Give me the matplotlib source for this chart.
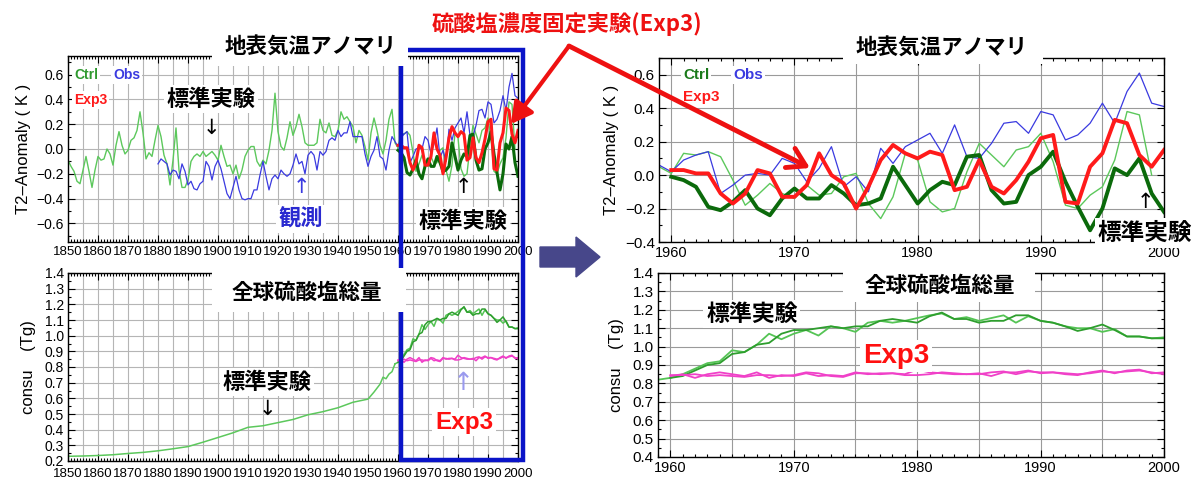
import matplotlib
matplotlib.use('Agg')
import matplotlib.pyplot as plt
import numpy as np
from matplotlib.patches import Rectangle, FancyArrowPatch, FancyArrow
from matplotlib.ticker import MultipleLocator

plt.rcParams['font.family'] = ['Liberation Sans', 'Noto Sans CJK JP', 'DejaVu Sans']
JP = ['Noto Sans CJK JP', 'DejaVu Sans']

# ---- temperature anomaly (K) ----
# thin light green control run, 1850-1999
ctrl_long = [
    -0.09, -0.14, -0.18, -0.26, -0.28, -0.17, -0.06, -0.18, -0.31, -0.17,
    -0.06, -0.09, -0.08, 0.00, -0.04, -0.13, 0.03, 0.14, 0.03, -0.04,
    -0.01, 0.07, 0.09, 0.15, 0.30, 0.13, -0.08, -0.03, -0.06, 0.07,
    0.19, 0.10, -0.05, -0.12, -0.29, -0.09, 0.17, -0.17, -0.31, -0.31,
    -0.25, -0.10, -0.06, -0.04, -0.06, -0.02, -0.06, -0.04, -0.02, -0.05,
    -0.09, 0.03, -0.06, -0.14, -0.13, -0.20, -0.13, -0.24, -0.17, -0.06,
    -0.01, 0.02, 0.02, -0.10, -0.14, -0.09, -0.12, -0.01, 0.15, 0.45,
    0.14, 0.02, -0.01, 0.09, 0.22, 0.11, 0.18, 0.28, 0.18, 0.05,
    0.03, 0.03, 0.03, 0.05, 0.24, 0.15, 0.13, 0.21, 0.11, 0.10,
    0.15, 0.30, 0.24, 0.26, 0.22, 0.18, 0.05, 0.15, 0.11, 0.02,
    -0.09, 0.13, 0.25, 0.15, 0.03, -0.04, 0.07, 0.24, 0.32, 0.05,
    0.01, 0.13, 0.12, 0.14, 0.11, -0.03, -0.18, -0.12, -0.05, -0.11,
    -0.14, -0.06, -0.12, -0.11, -0.01, 0.01, -0.17, -0.26, -0.13, 0.13,
    0.09, -0.16, -0.22, -0.20, 0.02, 0.19, 0.12, 0.05, 0.15, 0.17,
    0.25, 0.08, -0.18, -0.20, -0.12, -0.07, 0.09, 0.38, 0.36, 0.00,
]
ctrl_long_start = 1850

# observations, 1880-2000
obs = [
    -0.12, -0.08, -0.10, -0.12, -0.21, -0.17, -0.18, -0.24, -0.12, -0.18,
    -0.29, -0.26, -0.32, -0.33, -0.28, -0.26, -0.10, -0.14, -0.25, -0.14,
    -0.09, -0.16, -0.26, -0.36, -0.40, -0.31, -0.22, -0.33, -0.40, -0.41,
    -0.40, -0.40, -0.33, -0.33, -0.21, -0.10, -0.22, -0.33, -0.24, -0.21,
    -0.24, -0.17, -0.20, -0.22, -0.20, -0.13, -0.04, -0.12, -0.10, -0.20,
    -0.05, -0.02, -0.05, -0.17, -0.02, -0.05, -0.02, 0.07, 0.09, 0.07,
    0.15, 0.10, 0.13, 0.13, 0.22, 0.10, 0.10, 0.10, 0.10, -0.04,
    -0.14, -0.06, -0.01, 0.10, -0.06, -0.08, -0.17, -0.01, 0.10, 0.06,
    0.02, 0.09, 0.12, 0.14, -0.11, -0.06, 0.00, 0.01, 0.00, 0.10,
    0.07, -0.04, 0.04, 0.17, -0.07, -0.01, -0.10, 0.16, 0.07, 0.17,
    0.21, 0.25, 0.13, 0.30, 0.11, 0.10, 0.19, 0.31, 0.32, 0.25,
    0.38, 0.36, 0.21, 0.24, 0.31, 0.43, 0.31, 0.50, 0.61, 0.43,
    0.41,
]
obs_start = 1880

# 1960-2000: control (thick dark green) and fixed sulfate Exp3 (red)
ctrl_run = [
    -0.01, -0.03, -0.07, -0.19, -0.21, -0.16, -0.09, -0.20, -0.24, -0.14,
    -0.08, -0.14, -0.14, -0.06, -0.11, -0.18, -0.17, -0.14, 0.05, -0.06,
    -0.17, -0.09, -0.04, -0.06, 0.11, 0.12, -0.09, -0.17, -0.16, 0.00,
    0.05, 0.14, -0.04, -0.19, -0.33, -0.20, 0.04, 0.00, 0.10, -0.11,
    -0.22,
]
exp3 = [
    0.03, 0.03, 0.01, 0.01, -0.11, -0.17, -0.11, 0.03, 0.01, -0.13,
    -0.13, -0.06, 0.13, 0.00, -0.05, -0.20, -0.07, 0.09, 0.18, 0.13,
    0.10, 0.14, 0.12, -0.09, -0.07, 0.09, -0.07, -0.11, -0.03, 0.08,
    0.22, 0.24, -0.16, -0.17, 0.05, 0.13, 0.33, 0.31, 0.12, 0.05,
    0.15,
]
run_start = 1960

# ---- global sulfate burden (Tg) ----
sulf_hist_years = [1850, 1855, 1860, 1865, 1870, 1875, 1880, 1885, 1890, 1895,
                   1900, 1905, 1910, 1915, 1920, 1925, 1930, 1935, 1940, 1945,
                   1950, 1952, 1954, 1955, 1956, 1957, 1958, 1959]
sulf_hist = [0.230, 0.232, 0.235, 0.240, 0.248, 0.255, 0.265, 0.278, 0.292, 0.320,
             0.350, 0.380, 0.415, 0.425, 0.445, 0.465, 0.495, 0.515, 0.540, 0.575,
             0.595, 0.640, 0.690, 0.735, 0.725, 0.755, 0.770, 0.820]
sulf_ctrl_a = [
    0.83, 0.85, 0.88, 0.91, 0.92, 0.98, 0.97, 1.01, 1.07, 1.04,
    1.07, 1.09, 1.06, 1.11, 1.10, 1.08, 1.13, 1.14, 1.13, 1.14,
    1.155, 1.17, 1.18, 1.15, 1.16, 1.14, 1.155, 1.17, 1.13, 1.165,
    1.14, 1.13, 1.11, 1.10, 1.10, 1.08, 1.095, 1.055, 1.055, 1.045,
    1.05,
]
sulf_ctrl_b = [
    0.83, 0.84, 0.87, 0.90, 0.91, 0.96, 0.97, 1.01, 1.02, 1.07,
    1.09, 1.09, 1.10, 1.11, 1.10, 1.11, 1.11, 1.14, 1.15, 1.14,
    1.13, 1.165, 1.185, 1.15, 1.15, 1.13, 1.14, 1.14, 1.17, 1.17,
    1.14, 1.13, 1.11, 1.085, 1.10, 1.12, 1.09, 1.055, 1.055, 1.045,
    1.045,
]
sulf_exp3_a = [
    0.84, 0.85, 0.83, 0.85, 0.86, 0.85, 0.84, 0.86, 0.83, 0.845,
    0.84, 0.855, 0.84, 0.845, 0.84, 0.86, 0.85, 0.855, 0.855, 0.85,
    0.875, 0.86, 0.855, 0.85, 0.85, 0.855, 0.84, 0.86, 0.86, 0.87,
    0.855, 0.86, 0.85, 0.845, 0.86, 0.87, 0.855, 0.87, 0.875, 0.855,
    0.86,
]
sulf_exp3_b = [
    0.845, 0.845, 0.85, 0.84, 0.845, 0.84, 0.835, 0.845, 0.845, 0.84,
    0.845, 0.86, 0.855, 0.84, 0.835, 0.855, 0.855, 0.85, 0.855, 0.845,
    0.845, 0.85, 0.86, 0.855, 0.85, 0.85, 0.86, 0.865, 0.85, 0.865,
    0.86, 0.86, 0.855, 0.85, 0.855, 0.865, 0.86, 0.865, 0.87, 0.86,
    0.85,
]

yr_long = np.arange(ctrl_long_start, ctrl_long_start + len(ctrl_long))
yr_obs = np.arange(obs_start, obs_start + len(obs))
yr_run = np.arange(run_start, run_start + len(ctrl_run))

LGREEN = '#5cc85c'
DGREEN = '#0b6a0b'
BLUE = '#3a3ae0'
RED = '#ff1a1a'
MAG = '#f040c8'
GRN_A = '#55c455'
GRN_B = '#2e9e2e'

W, H = 1195, 480
fig = plt.figure(figsize=(W / 100, H / 100), dpi=100)


def box(l, t, r, b):
    return [l / W, 1 - b / H, (r - l) / W, (b - t) / H]


def style(ax, x0, x1, ymaj, ymin, gridc, xfs, yfs, xpad=3):
    ax.xaxis.set_major_locator(MultipleLocator(10))
    ax.xaxis.set_minor_locator(MultipleLocator(1))
    ax.yaxis.set_major_locator(MultipleLocator(ymaj))
    ax.yaxis.set_minor_locator(MultipleLocator(ymin))
    ax.tick_params(which='both', direction='in', top=True, right=True, width=0.8)
    ax.tick_params(which='major', length=5)
    ax.tick_params(which='minor', length=2.5)
    ax.tick_params(axis='x', labelsize=xfs, pad=xpad)
    ax.tick_params(axis='y', labelsize=yfs, pad=3)
    ax.grid(True, axis='y', which='major', color=gridc, lw=0.8)
    for x in range(int(np.ceil(x0 / 5) * 5), int(x1) + 1, 5):
        ax.axvline(x, color=gridc, lw=0.8, zorder=0.5)
    for s in ax.spines.values():
        s.set_linewidth(1.0)


# left, temperature
ax1 = fig.add_axes(box(68, 56, 518, 242))
ax1.plot(yr_long, ctrl_long, color=LGREEN, lw=1.0)
ax1.plot(yr_obs, obs, color=BLUE, lw=0.9)
ax1.plot(yr_run, ctrl_run, color=DGREEN, lw=2.2)
ax1.plot(yr_run, exp3, color=RED, lw=2.2)
ax1.set_xlim(1850, 2000)
ax1.set_ylim(-0.75, 0.75)
style(ax1, 1850, 2000, 0.2, 0.1, '#b5b5b5', 9.5, 10)
ax1.set_ylabel('T2–Anomaly ( K )', fontsize=12, labelpad=4)

# left, sulfate
ax2 = fig.add_axes(box(68, 273, 518, 461))
ax2.plot(sulf_hist_years, sulf_hist, color=LGREEN, lw=1.1)
ax2.plot(np.r_[sulf_hist_years[-1], yr_run], np.r_[sulf_hist[-1], sulf_ctrl_a], color=GRN_A, lw=1.1)
ax2.plot(yr_run, sulf_ctrl_b, color=GRN_B, lw=1.1)
ax2.plot(yr_run, sulf_exp3_a, color=MAG, lw=1.1)
ax2.plot(yr_run, sulf_exp3_b, color=MAG, lw=1.1)
ax2.set_xlim(1850, 2000)
ax2.set_ylim(0.2, 1.4)
style(ax2, 1850, 2000, 0.1, 0.05, '#b5b5b5', 9.5, 10, xpad=5)
ax2.set_ylabel('consu    (Tg)', fontsize=12, labelpad=6)

# right, temperature
ax3 = fig.add_axes(box(659, 58, 1164, 242))
ax3.plot(yr_long, ctrl_long, color=LGREEN, lw=1.0)
ax3.plot(yr_obs, obs, color=BLUE, lw=0.9)
ax3.plot(yr_run, ctrl_run, color=DGREEN, lw=2.8)
ax3.plot(yr_run, exp3, color=RED, lw=2.8)
ax3.set_xlim(1959, 2000)
ax3.set_ylim(-0.4, 0.7)
style(ax3, 1959, 2000, 0.2, 0.1, '#9a9a9a', 10.5, 11)
ax3.set_ylabel('T2–Anomaly ( K )', fontsize=12, labelpad=4)

# right, sulfate
ax4 = fig.add_axes(box(658, 273, 1164, 457))
ax4.plot(np.r_[sulf_hist_years[-1], yr_run], np.r_[sulf_hist[-1], sulf_ctrl_a], color=GRN_A, lw=1.3)
ax4.plot(yr_run, sulf_ctrl_b, color=GRN_B, lw=1.3)
ax4.plot(yr_run, sulf_exp3_a, color=MAG, lw=1.3)
ax4.plot(yr_run, sulf_exp3_b, color=MAG, lw=1.3)
ax4.set_xlim(1959, 2000)
ax4.set_ylim(0.4, 1.4)
style(ax4, 1959, 2000, 0.1, 0.05, '#9a9a9a', 10.5, 11)
ax4.set_ylabel('consu    (Tg)', fontsize=12, labelpad=6)

# overlay in pixel coordinates for the decorations
ov = fig.add_axes([0, 0, 1, 1], zorder=10)
ov.set_xlim(0, W)
ov.set_ylim(H, 0)
ov.axis('off')
ov.patch.set_alpha(0)

ov.add_patch(Rectangle((401, 50), 122, 410, fill=False, ec='#0a14c8', lw=3.2, zorder=1))

white = dict(facecolor='white', edgecolor='none', boxstyle='square,pad=0.12')


def jp(x, y, s, size=16, color='black', bb=white):
    ov.text(x, y, s, fontsize=size, color=color, fontweight='bold', family=JP,
            ha='center', va='center', bbox=bb, zorder=5)


def en(x, y, s, size=10.5, color='black', ha='left'):
    ov.text(x, y, s, fontsize=size, color=color, fontweight='bold',
            ha=ha, va='center', bbox=white, zorder=5)


# white patches behind the panel titles
for (l, t, r, b) in [(212, 31, 408, 66), (212, 268, 406, 312),
                     (843, 34, 1043, 64), (843, 268, 1035, 302)]:
    ov.add_patch(Rectangle((l, t), r - l, b - t, fc='white', ec='none', zorder=3))

jp(311, 47, '地表気温アノマリ', 15.5, bb=None)
jp(942, 48, '地表気温アノマリ', 15.5, bb=None)
jp(307, 292, '全球硫酸塩総量', 15.5, bb=None)
jp(940, 285, '全球硫酸塩総量', 15.5, bb=None)

# main red heading
ov.text(567, 24, '硫酸塩濃度固定実験(Exp3)', fontsize=16, color='#ee1111',
        fontweight='bold', family=JP, ha='center', va='center', zorder=5)

# legends
en(74, 75, 'Ctrl', 10, '#2f9a2f')
en(113, 75, 'Obs', 10, BLUE)
en(74, 100, 'Exp3', 10, RED)
en(683, 75, 'Ctrl', 11, '#1a7a1a')
en(733, 75, 'Obs', 11, BLUE)
en(683, 97, 'Exp3', 11, RED)

# annotations, left
jp(211, 99, '標準実験', 16)
ov.text(211, 128, '↓', fontsize=15, ha='center', va='center', family=['DejaVu Sans'], zorder=5)
ov.text(301, 187, '↑', fontsize=15, color=BLUE, ha='center', va='center', family=['DejaVu Sans'], zorder=5)
jp(301, 219, '観測', 16, color='#2a2ad0')
ov.text(463, 187, '↑', fontsize=15, ha='center', va='center', family=['DejaVu Sans'], zorder=5)
jp(463, 221, '標準実験', 16)
jp(267, 382, '標準実験', 16)
ov.text(267, 409, '↓', fontsize=15, ha='center', va='center', family=['DejaVu Sans'], zorder=5)
ov.text(463, 383, '↑', fontsize=18, color='#9a9aee', ha='center', va='center', family=['DejaVu Sans'], zorder=5)
en(464, 422, 'Exp3', 17.5, '#ff1010', ha='center')

# annotations, right
ov.text(1145, 202, '↑', fontsize=15, ha='center', va='center', family=['DejaVu Sans'], zorder=5)
jp(1145, 233, '標準実験', 17)
jp(752, 314, '標準実験', 16.5)
en(896, 356, 'Exp3', 20, '#ff1010', ha='center')

# red arrows from the heading
ov.add_patch(FancyArrowPatch((569, 46), (511, 124), arrowstyle='-|>,head_length=0.9,head_width=0.5',
                             color='#ee1111', lw=3, mutation_scale=14, zorder=6, shrinkA=0, shrinkB=0))
ov.add_patch(FancyArrowPatch((569, 46), (810, 168), arrowstyle='->,head_length=0.9,head_width=0.55',
                             color='#ee1111', lw=3.5, mutation_scale=14, zorder=6, shrinkA=0, shrinkB=0))

# big arrow between the panels
ov.add_patch(FancyArrow(540, 257, 36, 0, width=20, head_width=40, head_length=24,
                        length_includes_head=False, color='#47478a', zorder=4))

fig.savefig('out.png', dpi=100)
